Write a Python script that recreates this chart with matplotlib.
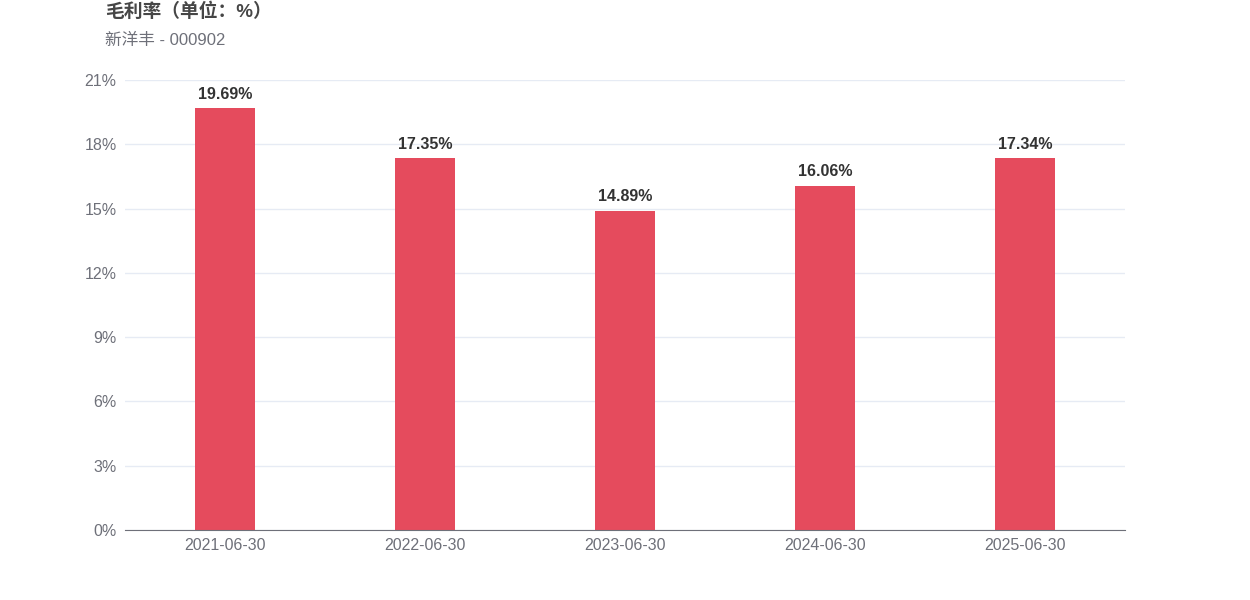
import matplotlib.pyplot as plt

plt.rcParams['font.family'] = ['Liberation Sans', 'Noto Sans CJK SC', 'DejaVu Sans']

dates = ["2021-06-30", "2022-06-30", "2023-06-30", "2024-06-30", "2025-06-30"]
margin = [19.69, 17.35, 14.89, 16.06, 17.34]
yticks = [0, 3, 6, 9, 12, 15, 18, 21]

fig = plt.figure(figsize=(12.5, 6), dpi=100)
ax = fig.add_axes([0.1, 0.1167, 0.8, 0.75])

x = range(len(dates))
ax.bar(x, margin, width=0.3, color="#e54b5d", zorder=2)
for i, v in zip(x, margin):
    ax.text(i, v + 0.3, f"{v:.2f}%", ha="center", va="bottom",
            fontsize=11.5, fontweight="bold", color="#333333")

ax.set_xlim(-0.5, len(dates) - 0.5)
ax.set_ylim(0, 21)
ax.set_yticks(yticks)
ax.set_yticklabels([f"{t}%" for t in yticks])
ax.set_xticks(list(x))
ax.set_xticklabels(dates)
ax.tick_params(axis="both", length=0, labelsize=11.5, labelcolor="#6e7079")
ax.tick_params(axis="y", pad=6)
ax.tick_params(axis="x", pad=6)
ax.grid(axis="y", color="#e6ebf4", linewidth=1, zorder=0)
for s in ["top", "right", "left"]:
    ax.spines[s].set_visible(False)
ax.spines["bottom"].set_color("#6e7079")
ax.spines["bottom"].set_zorder(3)

fig.text(105 / 1250, 1 - 12 / 600, "毛利率（单位：%）", fontsize=13.5,
         fontweight="bold", color="#464646", va="center")
fig.text(105 / 1250, 1 - 40 / 600, "新洋丰 - 000902", fontsize=12,
         color="#6e7079", va="center")

fig.savefig("out.png", dpi=100)
